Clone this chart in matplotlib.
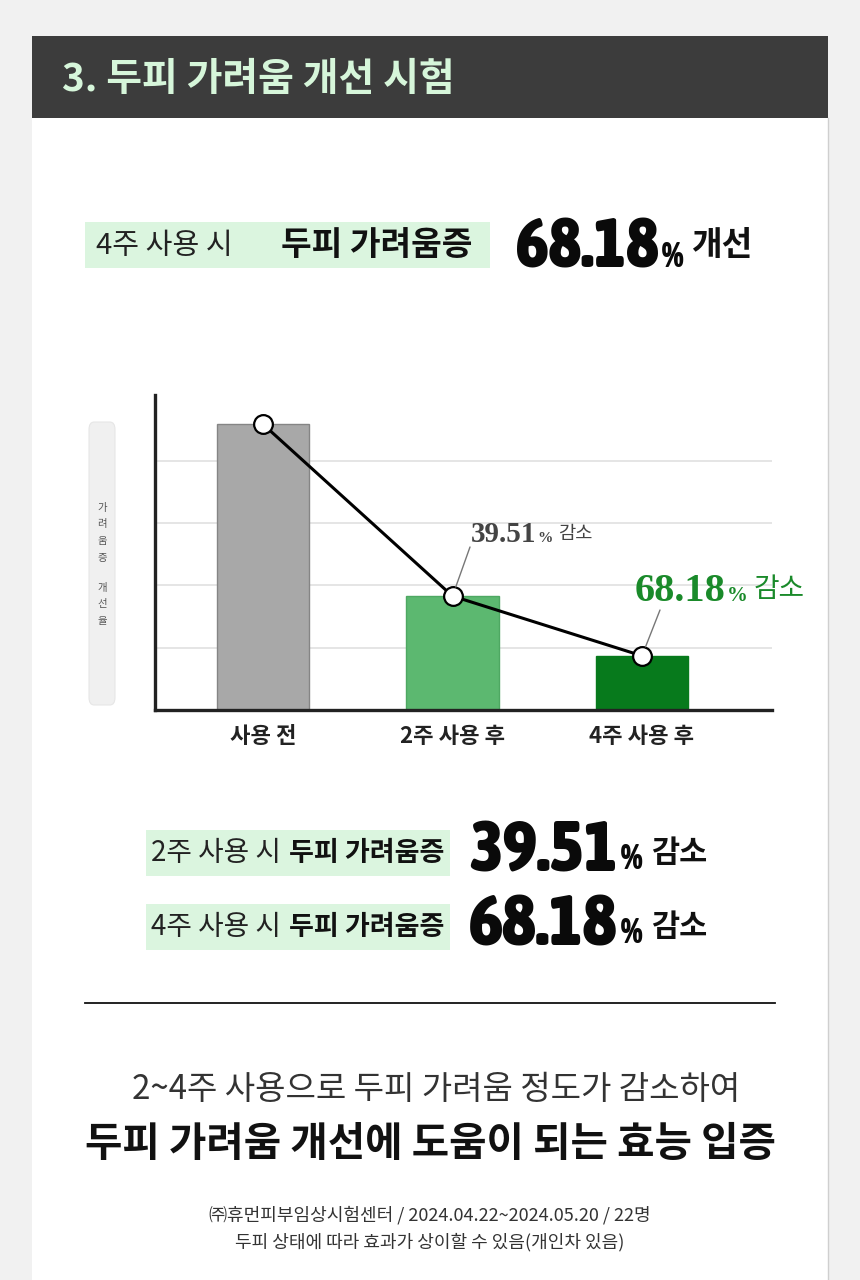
import matplotlib
matplotlib.use("Agg")
import matplotlib.pyplot as plt
from matplotlib.patches import Rectangle, FancyBboxPatch
from matplotlib.lines import Line2D
from matplotlib import font_manager as fm

# ---------------- data ----------------
categories = ["사용 전", "2주 사용 후", "4주 사용 후"]
values = [4.59, 1.83, 0.87]
bar_colors = ["#a8a8a8", "#5cb870", "#077a1c"]
bar_edges = ["#858585", "#4ea862", "#077a1c"]
gridlines = [1, 2, 3, 4]
title = "3. 두피 가려움 개선 시험"
ylabel_chars = ["가", "려", "움", "증", "", "개", "선", "율"]
ann_values = ["39.51", "68.18"]
headline_pct = "68.18"
summary_weeks = ["2주 사용 시", "4주 사용 시"]
summary_pcts = ["39.51", "68.18"]

KR = ["Noto Sans CJK KR", "DejaVu Sans"]
SERIF = ["Liberation Serif", "DejaVu Serif"]
plt.rcParams["font.family"] = KR

# condensed bold font for the big numbers (fallback: Liberation Sans Bold)
narrow_path = None
for f in fm.fontManager.ttflist:
    nm = f.name.lower()
    w = f.weight if isinstance(f.weight, int) else fm.weight_dict.get(str(f.weight), 400)
    if ("narrow" in nm or "condensed" in nm) and w >= 700 and "italic" not in str(f.style):
        narrow_path = f.fname
        break
if narrow_path:
    BIG = fm.FontProperties(fname=narrow_path)
    big_top, big_row, pct_size = 50, 52, 25
else:
    BIG = fm.FontProperties(family=["Liberation Sans", "DejaVu Sans"], weight="bold")
    big_top, big_row, pct_size = 44, 46, 20

W, H = 860, 1280
fig = plt.figure(figsize=(W / 100, H / 100), dpi=100)
fig.patch.set_facecolor("#f1f1f1")
renderer = fig.canvas.get_renderer()


def fx(x):
    return x / W


def fy(y):
    return 1 - y / H


def txt(x, y, s, size, weight="normal", color="#111", ha="left", va="center", family=KR, fp=None, **kw):
    if fp is not None:
        p = fp.copy()
        p.set_size(size)
        return fig.text(fx(x), fy(y), s, fontproperties=p, color=color, ha=ha, va=va, **kw)
    return fig.text(fx(x), fy(y), s, fontsize=size, fontweight=weight, color=color,
                    ha=ha, va=va, family=family, **kw)


def right(t):
    return t.get_window_extent(renderer).x1


def rect(x0, y0, x1, y1, color, z=0, **kw):
    fig.add_artist(Rectangle((fx(x0), fy(y1)), fx(x1) - fx(x0), (y1 - y0) / H,
                             transform=fig.transFigure, facecolor=color,
                             edgecolor="none", zorder=z, **kw))


# card and header
rect(32, 36, 828, 1280, "white")
fig.add_artist(Line2D([fx(828), fx(828)], [0, fy(118)], color="#cfcfcf", lw=1))
rect(32, 36, 828, 118, "#3c3c3c")
txt(62, 79, title, 28, weight="heavy", color="#d6f6da")

# headline
rect(85, 222, 490, 268, "#dbf5df")
txt(96, 246, "4주 사용 시", 21, weight="light", color="#222")
txt(281, 246, "두피 가려움증", 24, weight="bold", color="#111")
t = txt(516, 268, headline_pct, big_top, color="#0a0a0a", va="baseline", fp=BIG)
t = txt(right(t) + 3, 267, "%", pct_size, color="#0a0a0a", va="baseline", fp=BIG)
txt(right(t) + 8, 246, "개선", 24, weight="bold", color="#111")

# ---------------- chart ----------------
ax = fig.add_axes([fx(155), fy(710), fx(772) - fx(155), (710 - 395) / H])
ax.set_facecolor("none")
xs = list(range(len(categories)))
ax.bar(xs, values, width=0.49, color=bar_colors, edgecolor=bar_edges, linewidth=1, zorder=2)
ax.plot(xs, values, color="black", lw=2.2, zorder=3, marker="o", markersize=13.5,
        markerfacecolor="white", markeredgecolor="black", markeredgewidth=1.6,
        clip_on=False)
for g in gridlines:
    ax.axhline(g, color="#e3e3e3", lw=1.3, zorder=1)
ax.set_xlim(-0.57, 2.686)
ax.set_ylim(0, 5.06)
ax.set_yticks([])
ax.set_xticks(xs)
ax.set_xticklabels(categories, fontsize=16, fontweight="bold", color="#222")
ax.tick_params(axis="x", length=0, pad=11)
for s in ["top", "right"]:
    ax.spines[s].set_visible(False)
for s in ["left", "bottom"]:
    ax.spines[s].set_color("#222")
    ax.spines[s].set_linewidth(2.4)

# annotations
ax.annotate("", xy=(1, values[1]), xytext=(fx(470), fy(547)), textcoords="figure fraction",
            arrowprops=dict(arrowstyle="-", color="#777", lw=1, shrinkA=0, shrinkB=7))
ax.annotate("", xy=(2, values[2]), xytext=(fx(660), fy(610)), textcoords="figure fraction",
            arrowprops=dict(arrowstyle="-", color="#777", lw=1, shrinkA=0, shrinkB=7))
t = txt(471, 542, ann_values[0], 21, weight="bold", color="#444", va="baseline", family=SERIF)
t = txt(right(t) + 1, 542, "%", 11, weight="bold", color="#444", va="baseline", family=SERIF)
txt(right(t) + 5, 534, "감소", 13.5, weight="normal", color="#444")
t = txt(635, 601, ann_values[1], 29, weight="bold", color="#1a8a2a", va="baseline", family=SERIF)
t = txt(right(t) + 1, 601, "%", 15, weight="bold", color="#1a8a2a", va="baseline", family=SERIF)
txt(right(t) + 6, 589, "감소", 20, weight="normal", color="#1a8a2a")

# y-label box
fig.add_artist(FancyBboxPatch((fx(89), fy(705)), fx(115) - fx(89), (705 - 422) / H,
                              boxstyle="round,pad=0,rounding_size=0.006",
                              transform=fig.transFigure, facecolor="#f0f0f0",
                              edgecolor="#e6e6e6", lw=0.8))
cy = 508
for ch in ylabel_chars:
    if ch:
        txt(102, cy, ch, 7.5, color="#555", ha="center")
        cy += 16.5
    else:
        cy += 14

# ---------------- summary rows ----------------
row_y = [853, 927]
for wk, pct, y in zip(summary_weeks, summary_pcts, row_y):
    rect(146, y - 23, 450, y + 23, "#dbf5df")
    txt(151, y, wk, 20, weight="light", color="#222")
    txt(289, y, "두피 가려움증", 19.5, weight="bold", color="#111")
    t = txt(469, y + 18, pct, big_row, color="#0a0a0a", va="baseline", fp=BIG)
    t = txt(right(t) + 3, y + 16, "%", pct_size, color="#0a0a0a", va="baseline", fp=BIG)
    txt(right(t) + 9, y, "감소", 22, weight="bold", color="#111")

# divider
fig.add_artist(Line2D([fx(85), fx(775)], [fy(1003), fy(1003)], color="#111", lw=1.3))

# conclusion
txt(436, 1090, "2~4주 사용으로 두피 가려움 정도가 감소하여", 23.8, weight="light", color="#333", ha="center")
txt(430, 1145, "두피 가려움 개선에 도움이 되는 효능 입증", 29.3, weight="bold", color="#111", ha="center")

# footer
txt(430, 1215, "㈜휴먼피부임상시험센터 / 2024.04.22~2024.05.20 / 22명", 13, weight="light", color="#333", ha="center")
txt(430, 1242, "두피 상태에 따라 효과가 상이할 수 있음(개인차 있음)", 13, weight="light", color="#333", ha="center")

fig.savefig("out.png", dpi=100, facecolor=fig.get_facecolor())
